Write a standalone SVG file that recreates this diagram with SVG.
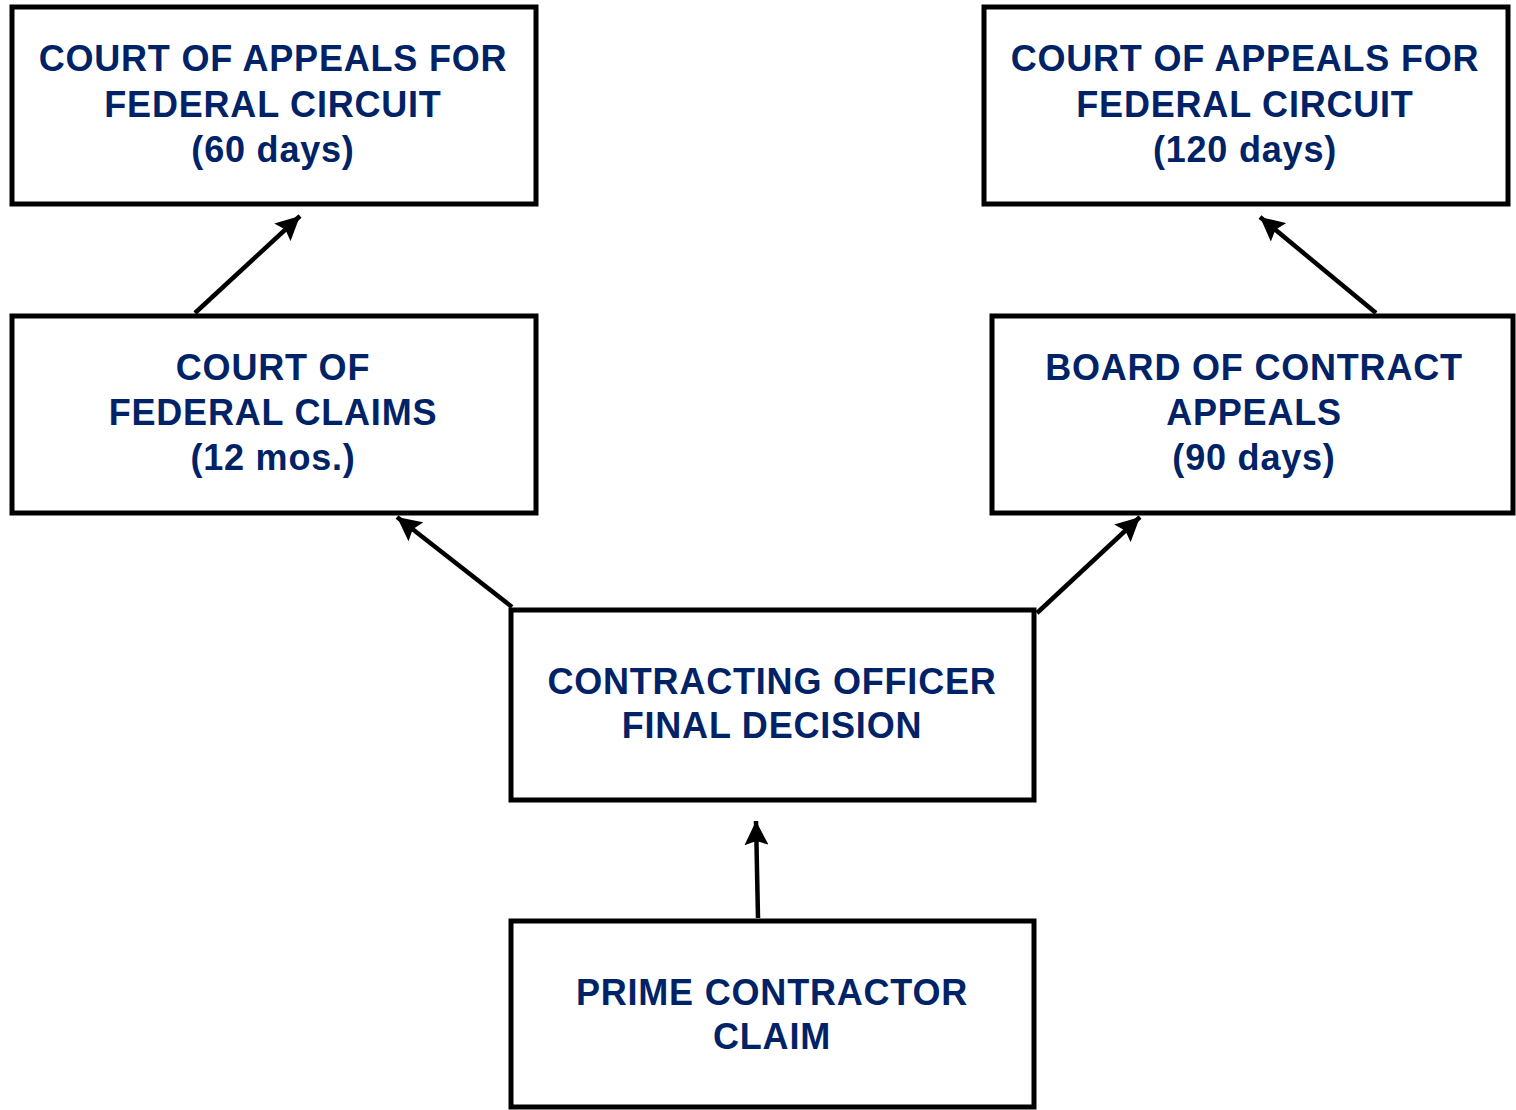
<svg xmlns="http://www.w3.org/2000/svg" width="1516" height="1110" viewBox="0 0 1516 1110">
<defs>
<style>
.box{fill:#fff;stroke:#000;stroke-width:5}
.t{font-family:"Liberation Sans",Arial,sans-serif;font-weight:bold;font-size:36px;letter-spacing:0.8px;fill:#002266;text-anchor:middle}
.c{stroke:#000;stroke-width:4.5;fill:none;marker-end:url(#ah)}
</style>
<marker id="ah" markerUnits="userSpaceOnUse" markerWidth="26" markerHeight="24" refX="24" refY="12" orient="auto">
<path d="M0,0 L24,12 L0,24 L4,12 Z" fill="#000"/>
</marker>
</defs>
<rect width="1516" height="1110" fill="#fff"/>
<g id="connectors">
<line class="c" x1="195" y1="313" x2="300" y2="216"/>
<line class="c" x1="1376" y1="313" x2="1260" y2="217"/>
<line class="c" x1="512" y1="607" x2="397" y2="517"/>
<line class="c" x1="1037" y1="613" x2="1140" y2="517"/>
<line class="c" x1="758" y1="918" x2="756" y2="821"/>
</g>
<g id="cafc60">
<rect class="box" x="12" y="7" width="524" height="197"/>
<text class="t" x="273" y="71">COURT OF APPEALS FOR</text>
<text class="t" x="273" y="117">FEDERAL CIRCUIT</text>
<text class="t" x="273" y="162">(60 days)</text>
</g>
<g id="cafc120">
<rect class="box" x="984" y="7" width="524" height="197"/>
<text class="t" x="1245" y="71">COURT OF APPEALS FOR</text>
<text class="t" x="1245" y="117">FEDERAL CIRCUIT</text>
<text class="t" x="1245" y="162">(120 days)</text>
</g>
<g id="cofc">
<rect class="box" x="12" y="316" width="524" height="197"/>
<text class="t" x="273" y="380">COURT OF</text>
<text class="t" x="273" y="425">FEDERAL CLAIMS</text>
<text class="t" x="273" y="470">(12 mos.)</text>
</g>
<g id="bca">
<rect class="box" x="992" y="316" width="521" height="197"/>
<text class="t" x="1254" y="380">BOARD OF CONTRACT</text>
<text class="t" x="1254" y="425">APPEALS</text>
<text class="t" x="1254" y="470">(90 days)</text>
</g>
<g id="cofd">
<rect class="box" x="511" y="610" width="523" height="190"/>
<text class="t" x="772" y="694">CONTRACTING OFFICER</text>
<text class="t" x="772" y="738">FINAL DECISION</text>
</g>
<g id="pcc">
<rect class="box" x="511" y="921" width="523" height="186"/>
<text class="t" x="772" y="1005">PRIME CONTRACTOR</text>
<text class="t" x="772" y="1049">CLAIM</text>
</g>
</svg>
